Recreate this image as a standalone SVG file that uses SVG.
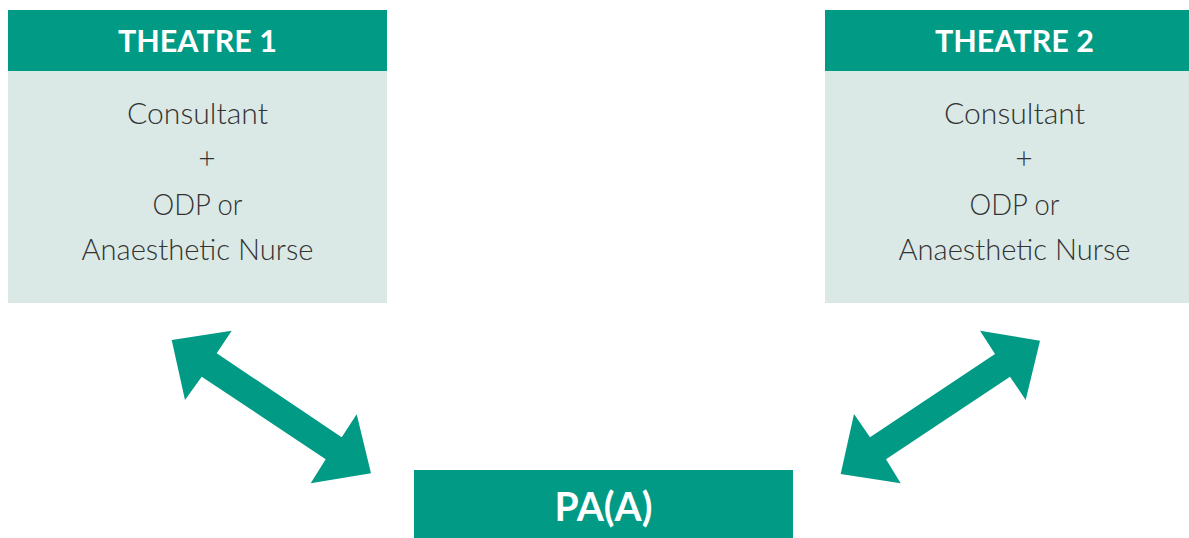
<svg xmlns="http://www.w3.org/2000/svg" width="1189" height="538" viewBox="0 0 1189 538">
<style>
.hdr{fill:#009a85}
.body{fill:#dae9e6}
.ht{font-family:Lato,"Open Sans","Liberation Sans",sans-serif;font-weight:700;fill:#ffffff;text-anchor:middle}
.bt{font-family:Lato,"Open Sans","Liberation Sans",sans-serif;font-weight:300;font-size:30px;fill:#333333;text-anchor:middle}
.arr{fill:#009a85}
</style>
<rect width="1189" height="538" fill="#ffffff"/>
<g id="theatre1">
<rect class="body" x="8" y="10" width="379" height="293"/>
<rect class="hdr" x="8" y="10" width="379" height="61"/>
<text class="ht" x="197.5" y="52" font-size="31" textLength="159" lengthAdjust="spacingAndGlyphs">THEATRE 1</text>
<text class="bt" x="197.5" y="124" textLength="141" lengthAdjust="spacingAndGlyphs">Consultant</text>
<text class="bt" x="207" y="169">+</text>
<text class="bt" x="197.5" y="215" textLength="90" lengthAdjust="spacingAndGlyphs">ODP or</text>
<text class="bt" x="197.5" y="260" textLength="232" lengthAdjust="spacingAndGlyphs">Anaesthetic Nurse</text>
</g>
<g id="theatre2">
<rect class="body" x="825" y="10" width="379" height="293"/>
<rect class="hdr" x="825" y="10" width="379" height="61"/>
<text class="ht" x="1014.5" y="52" font-size="31" textLength="159" lengthAdjust="spacingAndGlyphs">THEATRE 2</text>
<text class="bt" x="1014.5" y="124" textLength="141" lengthAdjust="spacingAndGlyphs">Consultant</text>
<text class="bt" x="1024" y="169">+</text>
<text class="bt" x="1014.5" y="215" textLength="90" lengthAdjust="spacingAndGlyphs">ODP or</text>
<text class="bt" x="1014.5" y="260" textLength="232" lengthAdjust="spacingAndGlyphs">Anaesthetic Nurse</text>
</g>
<g id="pa">
<rect class="hdr" x="414" y="470" width="379" height="68"/>
<text class="ht" x="603.5" y="521" font-size="41" textLength="98" lengthAdjust="spacingAndGlyphs">PA(A)</text>
</g>
<g id="connectors">
<polygon class="arr" points="171.7,340 231.7,330.7 216.7,353.3 341.7,437.3 356.7,414.3 371,473.3 310.7,483.3 325.7,459.3 201.7,376.7 185,400"/>
<polygon class="arr" points="1040,340.7 980,330.7 995,354 870,437.3 854,414 840.7,474 900.7,483.3 886,459.3 1010,376.7 1025.7,400"/>
</g>
</svg>
